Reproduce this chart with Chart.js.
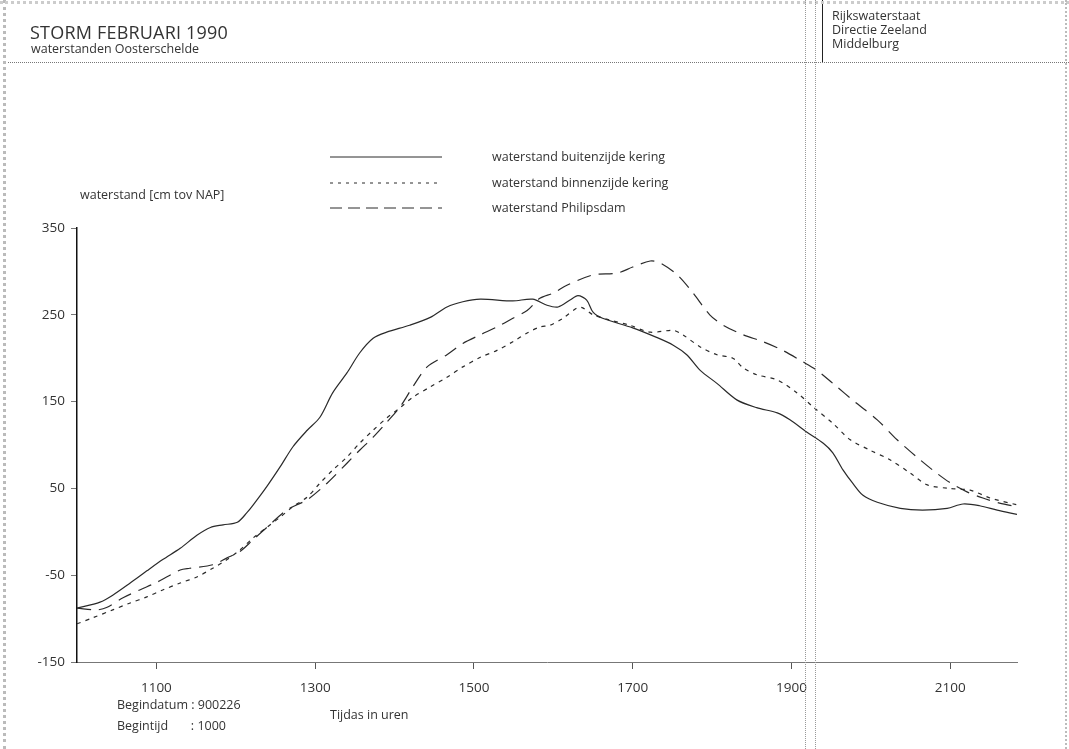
<!DOCTYPE html>
<html>
<head>
<meta charset="utf-8">
<script src="https://cdn.jsdelivr.net/npm/chart.js@4.4.1/dist/chart.umd.min.js"></script>
<style>
  html, body { margin: 0; padding: 0; background: #fff; }
  #page { position: relative; width: 1069px; height: 749px; overflow: hidden; font-family: 'Open Sans', 'Noto Sans', sans-serif; color: #333; }
  #page canvas { position: absolute; left: 0; top: 0; }
  .txt { position: absolute; white-space: pre; line-height: 1; }
  .rule { position: absolute; }
</style>
</head>
<body>
<div id="page">
  <canvas id="storm-chart" width="1069" height="749"></canvas>

  <!-- header block -->
  <div class="txt" style="left:30px; top:23px; font-size:18px; letter-spacing:0.2px;">STORM FEBRUARI 1990</div>
  <div class="txt" style="left:31px; top:43px; font-size:12.5px;">waterstanden Oosterschelde</div>
  <div class="txt" style="left:832px; top:10px; font-size:12.5px;">Rijkswaterstaat</div>
  <div class="txt" style="left:832px; top:24px; font-size:12.5px;">Directie Zeeland</div>
  <div class="txt" style="left:832px; top:38px; font-size:12.5px;">Middelburg</div>
  <div class="rule" style="left:8px; top:62px; width:1061px; border-top:1px dotted #777;"></div>
  <div class="rule" style="left:822px; top:0; height:62px; border-left:1.5px solid #222;"></div>

  <!-- axis texts -->
  <div class="txt" style="left:80px; top:189px; font-size:12.5px;">waterstand [cm tov NAP]</div>
  <div class="txt" style="left:117px; top:699px; font-size:12.5px;">Begindatum : 900226</div>
  <div class="txt" style="left:117px; top:720px; font-size:12.5px;">Begintijd       : 1000</div>
  <div class="txt" style="left:330px; top:709px; font-size:12.5px;">Tijdas in uren</div>

  <!-- scan edges -->
  <div class="rule" style="left:3px; top:0; height:749px; border-left:3px dotted #bbb;"></div>
  <div class="rule" style="left:0; top:1px; width:1069px; border-top:3px dotted #ccc;"></div>
  <div class="rule" style="left:805px; top:0; height:749px; border-left:1px dotted #999;"></div>
  <div class="rule" style="left:815px; top:0; height:749px; border-left:1px dotted #999;"></div>
  <div class="rule" style="left:1065px; top:0; height:749px; border-left:2px dotted #bbb;"></div>
</div>

<script>
// series names
const seriesLabels = [
    'waterstand buitenzijde kering',
    'waterstand binnenzijde kering',
    'waterstand Philipsdam'
];

// time in hours after 10:00 (Begintijd 1000), water level in cm tov NAP
const buitenHours = [0, 0.29, 0.45, 0.67, 0.88, 1.08, 1.30, 1.51, 1.68, 1.84, 2.02, 2.14, 2.22, 2.39, 2.56, 2.72, 2.90, 3.06, 3.22, 3.40, 3.56, 3.73, 3.90, 4.19, 4.45, 4.66, 4.86, 5.08, 5.49, 5.74, 5.92, 6.06, 6.21, 6.31, 6.42, 6.50, 6.62, 7.00, 7.30, 7.51, 7.68, 7.85, 8.06, 8.31, 8.56, 8.82, 8.98, 9.19, 9.40, 9.52, 9.65, 9.77, 9.90, 10.08, 10.37, 10.65, 10.96, 11.16, 11.37, 11.59, 11.84];
const buitenLevel = [-88, -81, -73, -59, -45, -32, -19, -4, 5, 8, 11, 22, 31, 52, 75, 98, 117, 132, 160, 183, 206, 223, 230, 238, 247, 259, 265, 268, 266, 268, 261, 259, 267, 272, 267, 253, 246, 235, 224, 215, 204, 186, 171, 152, 143, 137, 129, 115, 102, 91, 71, 56, 42, 34, 27, 25, 27, 32, 30, 25, 20];

const binnenHours = [0, 0.20, 0.45, 0.67, 0.88, 1.08, 1.30, 1.51, 1.71, 1.89, 2.05, 2.22, 2.39, 2.56, 2.72, 2.90, 3.06, 3.22, 3.40, 3.56, 3.73, 3.90, 4.07, 4.23, 4.45, 4.66, 4.86, 5.08, 5.29, 5.49, 5.67, 5.83, 5.96, 6.12, 6.30, 6.37, 6.50, 6.71, 6.96, 7.22, 7.51, 7.63, 7.85, 8.06, 8.26, 8.39, 8.56, 8.82, 9.07, 9.27, 9.52, 9.74, 9.99, 10.24, 10.49, 10.71, 10.99, 11.25, 11.50, 11.84];
const binnenLevel = [-106, -99, -90, -82, -75, -67, -59, -52, -42, -32, -21, -7, 5, 17, 29, 40, 56, 71, 86, 102, 117, 131, 143, 155, 167, 178, 190, 201, 209, 219, 229, 236, 238, 246, 258, 258, 250, 244, 238, 230, 232, 227, 213, 204, 200, 189, 181, 175, 160, 144, 125, 106, 94, 83, 68, 54, 50, 48, 39, 31];

const philipsHours = [0, 0.25, 0.38, 0.58, 0.79, 1.01, 1.30, 1.42, 1.71, 1.89, 2.05, 2.22, 2.39, 2.64, 2.90, 3.15, 3.40, 3.56, 3.73, 3.90, 4.07, 4.23, 4.41, 4.66, 4.86, 5.08, 5.29, 5.49, 5.67, 5.83, 6.00, 6.17, 6.50, 6.80, 7.00, 7.22, 7.34, 7.56, 7.76, 7.97, 8.14, 8.39, 8.64, 8.89, 9.14, 9.32, 9.52, 9.82, 10.08, 10.33, 10.58, 10.78, 10.99, 11.21, 11.41, 11.62, 11.84];
const philipsLevel = [-88, -90, -87, -76, -67, -58, -44, -42, -38, -30, -23, -9, 5, 25, 37, 56, 79, 94, 109, 126, 144, 167, 190, 204, 217, 227, 236, 246, 255, 269, 275, 284, 296, 298, 305, 312, 310, 296, 275, 250, 238, 227, 219, 209, 196, 186, 171, 148, 129, 106, 86, 71, 57, 46, 39, 33, 29];

// axis ticks
const yTicks = [-150, -50, 50, 150, 250, 350];
const xTickHours = [1, 3, 5, 7, 9, 11];

function toPoints(hours, levels) {
    return hours.map((h, i) => ({ x: h, y: levels[i] }));
}

// draw the legend like the original: line sample with the text next to it
const sampleLegend = {
    id: 'sampleLegend',
    afterDraw(chart) {
        const ctx = chart.ctx;
        const rows = [157, 183, 208];
        chart.data.datasets.forEach((ds, i) => {
            const y = rows[i];
            ctx.save();
            ctx.strokeStyle = ds.borderColor;
            ctx.lineWidth = 1;
            ctx.setLineDash(ds.legendDash || []);
            ctx.beginPath();
            ctx.moveTo(330, y);
            ctx.lineTo(442, y);
            ctx.stroke();
            ctx.setLineDash([]);
            ctx.fillStyle = '#333';
            ctx.font = '12.5px "Open Sans", "Noto Sans", sans-serif';
            ctx.textBaseline = 'middle';
            ctx.fillText(ds.label, 492, y);
            ctx.restore();
        });
    }
};

const lineColor = '#2a2a2a';

new Chart(document.getElementById('storm-chart'), {
    type: 'line',
    data: {
        datasets: [
            {
                label: seriesLabels[0],
                data: toPoints(buitenHours, buitenLevel),
                borderColor: lineColor,
                borderWidth: 1.2,
                legendDash: []
            },
            {
                label: seriesLabels[1],
                data: toPoints(binnenHours, binnenLevel),
                borderColor: lineColor,
                borderWidth: 1.2,
                borderDash: [4, 5],
                legendDash: [3, 5]
            },
            {
                label: seriesLabels[2],
                data: toPoints(philipsHours, philipsLevel),
                borderColor: lineColor,
                borderWidth: 1.2,
                borderDash: [14, 8],
                legendDash: [12, 6]
            }
        ]
    },
    options: {
        responsive: false,
        animation: false,
        devicePixelRatio: 1,
        parsing: true,
        elements: {
            point: { radius: 0 },
            line: { tension: 0.3, fill: false }
        },
        layout: {
            padding: { left: 0, top: 228, right: 52, bottom: 47 }
        },
        plugins: {
            legend: { display: false },
            tooltip: { enabled: false }
        },
        scales: {
            x: {
                type: 'linear',
                min: 0,
                max: 11.84,
                afterBuildTicks: scale => {
                    scale.ticks = xTickHours.map(v => ({ value: v }));
                },
                afterFit: scale => { scale.height = 40; },
                grid: {
                    drawOnChartArea: false,
                    tickLength: 7,
                    tickColor: '#555',
                    tickWidth: 1
                },
                border: { color: '#777', width: 1 },
                ticks: {
                    padding: 11,
                    color: '#333',
                    font: { family: '"Open Sans", "Noto Sans", sans-serif', size: 13.5 },
                    callback: v => String(1000 + v * 100)
                }
            },
            y: {
                type: 'linear',
                min: -150,
                max: 350,
                afterBuildTicks: scale => {
                    scale.ticks = yTicks.map(v => ({ value: v }));
                },
                afterFit: scale => { scale.width = 77; },
                grid: {
                    drawOnChartArea: false,
                    tickLength: 6,
                    tickColor: '#777',
                    tickWidth: 1
                },
                border: { color: '#111', width: 1.5 },
                ticks: {
                    padding: 6,
                    color: '#333',
                    font: { family: '"Open Sans", "Noto Sans", sans-serif', size: 13.5 }
                }
            }
        }
    },
    plugins: [sampleLegend]
});
</script>
</body>
</html>
